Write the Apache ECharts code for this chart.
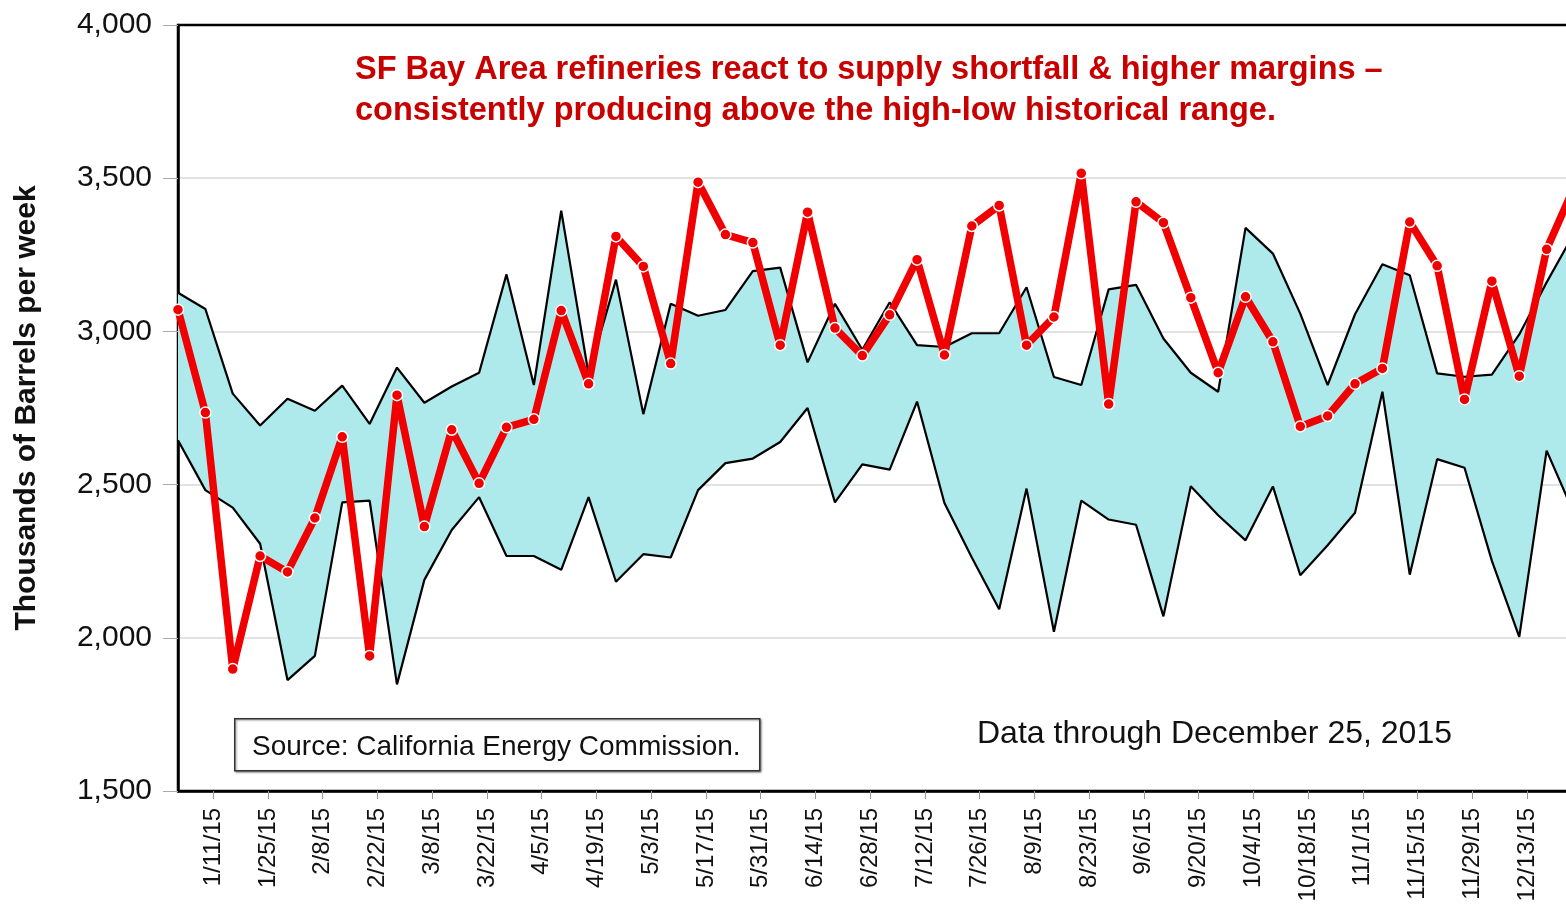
<!DOCTYPE html>
<html>
<head>
<meta charset="utf-8">
<script src="https://cdn.jsdelivr.net/npm/echarts@6/dist/echarts.min.js"></script>
<style>
  html, body { margin: 0; padding: 0; background: #fff; }
  #main { width: 1566px; height: 904px; }
</style>
</head>
<body>
<div id="main"></div>
<script>
// week ending dates (Fridays)
const weeks = ['1/2/15','1/9/15','1/16/15','1/23/15','1/30/15','2/6/15','2/13/15','2/20/15','2/27/15',
  '3/6/15','3/13/15','3/20/15','3/27/15','4/3/15','4/10/15','4/17/15','4/24/15','5/1/15','5/8/15',
  '5/15/15','5/22/15','5/29/15','6/5/15','6/12/15','6/19/15','6/26/15','7/3/15','7/10/15','7/17/15',
  '7/24/15','7/31/15','8/7/15','8/14/15','8/21/15','8/28/15','9/4/15','9/11/15','9/18/15','9/25/15',
  '10/2/15','10/9/15','10/16/15','10/23/15','10/30/15','11/6/15','11/13/15','11/20/15','11/27/15',
  '12/4/15','12/11/15','12/18/15','12/25/15'];

// 2015 production, thousands of barrels per week
const production = [3071,2735,1898,2267,2215,2391,2656,1941,2792,2363,2679,2504,2687,2713,3068,
  2829,3310,3212,2895,3487,3316,3290,2955,3389,3011,2921,3054,3234,2923,3344,3411,2955,3047,3516,
  2763,3423,3355,3110,2865,3113,2966,2690,2724,2829,2879,3357,3214,2778,3164,2854,3268,3470];

// historical high and low
const histHigh = [3126,3073,2797,2693,2780,2741,2823,2698,2882,2767,2820,2865,3186,2825,3394,
  2860,3169,2730,3090,3051,3070,3197,3208,2899,3090,2940,3095,2955,2949,2994,2994,3144,2851,2825,
  3137,3152,2977,2865,2803,3338,3254,3058,2825,3056,3219,3183,2863,2852,2859,2990,3160,3320];
const histLow = [2645,2482,2425,2307,1862,1941,2442,2448,1848,2189,2352,2459,2267,2267,2222,
  2459,2183,2273,2262,2482,2570,2585,2639,2750,2442,2566,2549,2771,2440,2262,2093,2487,2020,2448,
  2386,2369,2070,2495,2400,2318,2494,2204,2302,2408,2803,2206,2583,2555,2251,2003,2611,2406];

// axis labels are on Sundays, every two weeks
const tickLabels = ['1/11/15','1/25/15','2/8/15','2/22/15','3/8/15','3/22/15','4/5/15','4/19/15',
  '5/3/15','5/17/15','5/31/15','6/14/15','6/28/15','7/12/15','7/26/15','8/9/15','8/23/15','9/6/15',
  '9/20/15','10/4/15','10/18/15','11/1/15','11/15/15','11/29/15','12/13/15'];

function dayNum(s) {
  const p = s.split('/').map(Number);
  return Date.UTC(2000 + p[2], p[0] - 1, p[1]) / 86400000;
}
const t0 = dayNum(weeks[0]);
const lastDay = dayNum(weeks[weeks.length - 1]) - t0;
const tickPos = tickLabels.map(t => dayNum(t) - t0);
const labelAt = {};
tickPos.forEach((p, i) => { labelAt[p] = tickLabels[i]; });

const font = 'Liberation Sans, Arial, sans-serif';
const chart = echarts.init(document.getElementById('main'));
chart.setOption({
  animation: false,
  backgroundColor: '#fff',
  title: {
    text: 'SF Bay Area refineries react to supply shortfall & higher margins –\nconsistently producing above the high-low historical range.',
    left: 350,
    top: 45,
    textStyle: { fontFamily: font, fontSize: 32.5, fontWeight: 'bold', color: '#c80000', lineHeight: 41 }
  },
  grid: {
    left: 178, top: 25, right: -8, bottom: 113,
    containLabel: false, outerBoundsMode: 'none',
    show: true, borderColor: '#000', borderWidth: 2.5, backgroundColor: 'transparent'
  },
  xAxis: [
    {
      // weekly data positions
      type: 'category',
      position: 'bottom',
      data: weeks,
      boundaryGap: false,
      axisLine: { show: false },
      axisTick: { show: false },
      axisLabel: { show: false },
      splitLine: { show: false }
    },
    {
      // date scale for the Sunday tick labels
      type: 'value',
      position: 'bottom',
      offset: 0,
      min: 0,
      max: lastDay,
      splitLine: { show: false },
      axisLine: { show: true, onZero: false, lineStyle: { color: '#000', width: 2.5 } },
      axisTick: { show: true, customValues: tickPos, length: 8, lineStyle: { color: '#999', width: 1 } },
      axisLabel: {
        customValues: tickPos,
        rotate: 90,
        margin: 17,
        fontFamily: font,
        fontSize: 24,
        color: '#111',
        formatter: v => labelAt[v] || ''
      }
    }
  ],
  yAxis: {
    type: 'value',
    min: 1500, max: 4000, interval: 500,
    name: 'Thousands of Barrels per week',
    nameLocation: 'middle',
    nameGap: 136,
    nameTextStyle: { fontFamily: font, fontSize: 30, fontWeight: 'bold', color: '#111' },
    axisLine: { show: true, lineStyle: { color: '#000', width: 2.5 } },
    axisTick: { show: true, length: 15, lineStyle: { color: '#aaa', width: 1 } },
    splitLine: { show: true, showMaxLine: false, showMinLine: false, lineStyle: { color: '#d8d8d8', width: 1.5 } },
    axisLabel: {
      margin: 26,
      fontFamily: font,
      fontSize: 30,
      color: '#111',
      formatter: v => v.toLocaleString('en-US')
    }
  },
  graphic: [
    {
      type: 'rect', left: 234, top: 718, z: 100,
      shape: { width: 525, height: 52 },
      style: { fill: '#fff', stroke: '#333', lineWidth: 1.5, shadowBlur: 2, shadowColor: 'rgba(0,0,0,0.4)', shadowOffsetX: 1, shadowOffsetY: 1 }
    },
    {
      type: 'text', left: 252, top: 733, z: 101,
      style: { text: 'Source: California Energy Commission.', font: '28px ' + font, fill: '#111' }
    },
    {
      type: 'text', left: 977, top: 718, z: 101,
      style: { text: 'Data through December 25, 2015', font: '32px ' + font, fill: '#111' }
    }
  ],
  series: [
    {
      name: 'base', type: 'line', stack: 'band', symbol: 'none', z: 1,
      lineStyle: { width: 0, opacity: 0 },
      data: histLow
    },
    {
      name: 'range', type: 'line', stack: 'band', symbol: 'none', z: 1,
      lineStyle: { width: 0, opacity: 0 },
      areaStyle: { color: '#aeeaec', opacity: 1 },
      data: histHigh.map((h, i) => h - histLow[i])
    },
    {
      name: 'High', type: 'line', symbol: 'none', z: 2,
      lineStyle: { color: '#000', width: 2.2 },
      data: histHigh
    },
    {
      name: 'Low', type: 'line', symbol: 'none', z: 2,
      lineStyle: { color: '#000', width: 2.2 },
      data: histLow
    },
    {
      name: '2015', type: 'line', z: 3,
      symbol: 'circle', symbolSize: 11,
      lineStyle: { color: '#f00000', width: 7.5 },
      itemStyle: { color: '#f00000', borderColor: '#fff', borderWidth: 1.5 },
      data: production
    }
  ]
});
</script>
</body>
</html>
